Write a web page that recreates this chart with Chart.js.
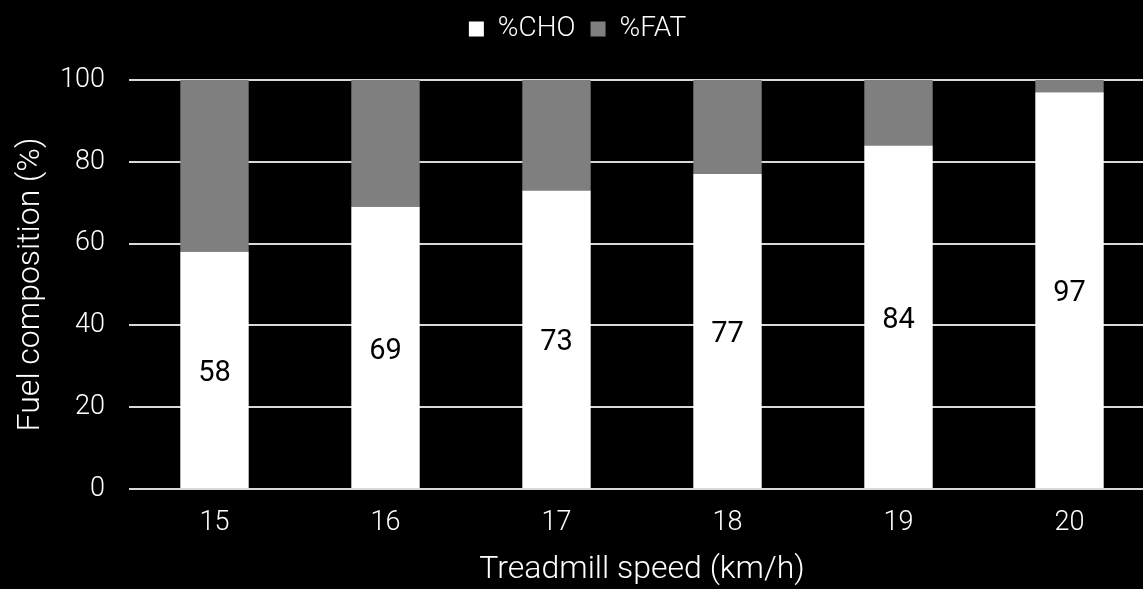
<!DOCTYPE html>
<html>
<head>
<meta charset="utf-8">
<script src="https://cdn.jsdelivr.net/npm/chart.js@4.4.1/dist/chart.umd.min.js"></script>
<style>
  html, body { margin: 0; padding: 0; background: #000; overflow: hidden; }
  #wrap { width: 1155px; height: 589px; }
</style>
</head>
<body>
<div id="wrap"><canvas id="c" width="1155" height="589"></canvas></div>
<script>
const speeds = ['15', '16', '17', '18', '19', '20'];
const choPct = [58, 69, 73, 77, 84, 97];
const fatPct = [42, 31, 27, 23, 16, 3];
const yTicks = [0, 20, 40, 60, 80, 100];

const FONT = 'Roboto, "Open Sans", sans-serif';

// Extra room between the legend and the plot area
const legendGap = {
  id: 'legendGap',
  beforeInit(chart) {
    const fit = chart.legend.fit;
    chart.legend.fit = function () {
      fit.call(this);
      this.height += 27;
    };
  }
};

// Value labels centred inside the %CHO bars
const choLabels = {
  id: 'choLabels',
  afterDatasetsDraw(chart) {
    const ctx = chart.ctx;
    const meta = chart.getDatasetMeta(0);
    ctx.save();
    ctx.fillStyle = '#000';
    ctx.font = '29px ' + FONT;
    ctx.textAlign = 'center';
    ctx.textBaseline = 'middle';
    meta.data.forEach((bar, i) => {
      const mid = (bar.y + bar.base) / 2 + 4;
      ctx.fillText(String(choPct[i]), bar.x, mid);
    });
    ctx.restore();
  }
};

new Chart(document.getElementById('c'), {
  type: 'bar',
  data: {
    labels: speeds,
    datasets: [
      { label: '%CHO', data: choPct, backgroundColor: '#ffffff', barPercentage: 0.4, categoryPercentage: 1.0 },
      { label: '%FAT', data: fatPct, backgroundColor: '#7f7f7f', barPercentage: 0.4, categoryPercentage: 1.0 }
    ]
  },
  options: {
    responsive: false,
    animation: false,
    layout: { padding: 0 },
    plugins: {
      legend: {
        position: 'top',
        labels: {
          color: '#fff',
          font: { family: FONT, size: 28, weight: 300 },
          boxWidth: 15,
          boxHeight: 15,
          padding: 15
        }
      },
      tooltip: { enabled: false }
    },
    scales: {
      x: {
        stacked: true,
        grid: { display: false },
        border: { display: false },
        ticks: { color: '#fff', font: { family: FONT, size: 27, weight: 300 }, padding: 10 },
        title: { display: true, text: 'Treadmill speed (km/h)', color: '#fff', font: { family: FONT, size: 32, weight: 300 }, padding: { top: 2, bottom: 0 } },
        afterFit(s) { s.height = 100; }
      },
      y: {
        stacked: true,
        min: 0,
        max: 100,
        afterBuildTicks(s) { s.ticks = yTicks.map(v => ({ value: v })); },
        grid: { color: '#d9d9d9', lineWidth: 2, drawTicks: false },
        border: { display: false },
        ticks: { color: '#fff', font: { family: FONT, size: 27, weight: 300 }, padding: 24 },
        title: { display: true, text: 'Fuel composition (%)', color: '#fff', font: { family: FONT, size: 32, weight: 300 }, padding: { top: 12, bottom: 0 } },
        afterFit(s) { s.width = 129; }
      }
    }
  },
  plugins: [legendGap, choLabels]
});
</script>
</body>
</html>
